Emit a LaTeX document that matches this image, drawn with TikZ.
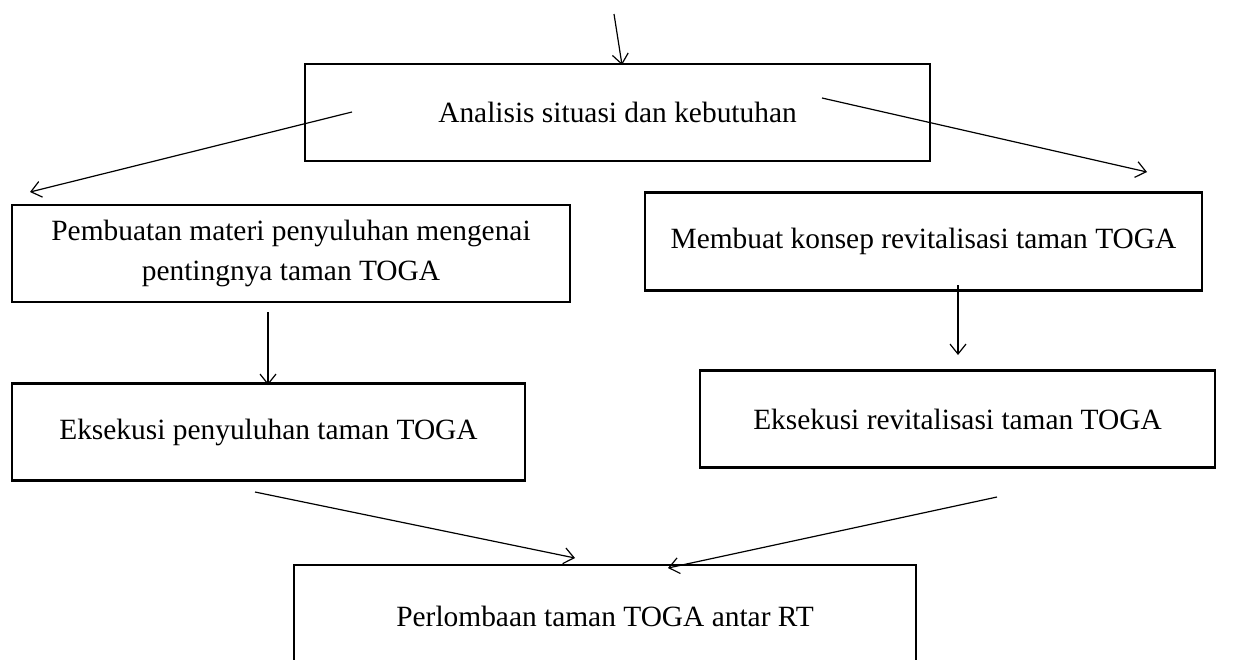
\documentclass[tikz,border=0pt]{standalone}
\usepackage{fontspec}
\setmainfont{Liberation Serif}
\usetikzlibrary{arrows.meta}
\begin{document}
\begin{tikzpicture}[x=0.5pt,y=-0.5pt,
  box/.style={draw,line width=1.3pt,inner sep=0pt,align=center,
    font=\fontsize{14.7}{20}\selectfont},
  arr/.style={line width=0.6pt,-{Straight Barb[length=5pt,width=8pt]}}]
\useasboundingbox (0,0) rectangle (1245,659);
\clip (0,0) rectangle (1245,659);
\node[box,minimum width=312.5pt,minimum height=48.5pt] (a) at (617.5,112.5) {Analisis situasi dan kebutuhan};
\node[box,minimum width=279pt,minimum height=48.5pt] (b) at (291,253.5) {Pembuatan materi penyuluhan mengenai\\pentingnya taman TOGA};
\node[box,minimum width=278.5pt,minimum height=49pt] (c) at (923.5,241.5) {Membuat konsep revitalisasi taman TOGA};
\node[box,minimum width=256.5pt,minimum height=48.5pt] (d) at (268.5,432) {Eksekusi penyuluhan taman TOGA};
\node[box,minimum width=257.5pt,minimum height=48.5pt] (e) at (957.5,419) {Eksekusi revitalisasi taman TOGA};
\node[box,minimum width=311pt,minimum height=51.5pt] (f) at (605,616.5) {Perlombaan taman TOGA antar RT};
\coordinate (s0) at (614,14);
\coordinate (t0) at (622,65);
\coordinate (s1) at (352,112);
\coordinate (t1) at (30,192);
\coordinate (s2) at (822,98);
\coordinate (t2) at (1147,172);
\coordinate (s3) at (268,312);
\coordinate (t3) at (268,385);
\coordinate (s4) at (958,285);
\coordinate (t4) at (958,355);
\coordinate (s5) at (255,492);
\coordinate (t5) at (575,558);
\coordinate (s6) at (997,497);
\coordinate (t6) at (668,568);
\draw[arr] (s0) -- (t0);
\draw[arr] (s1) -- (t1);
\draw[arr] (s2) -- (t2);
\draw[arr] (s3) -- (t3);
\draw[arr] (s4) -- (t4);
\draw[arr] (s5) -- (t5);
\draw[arr] (s6) -- (t6);
\end{tikzpicture}
\end{document}
